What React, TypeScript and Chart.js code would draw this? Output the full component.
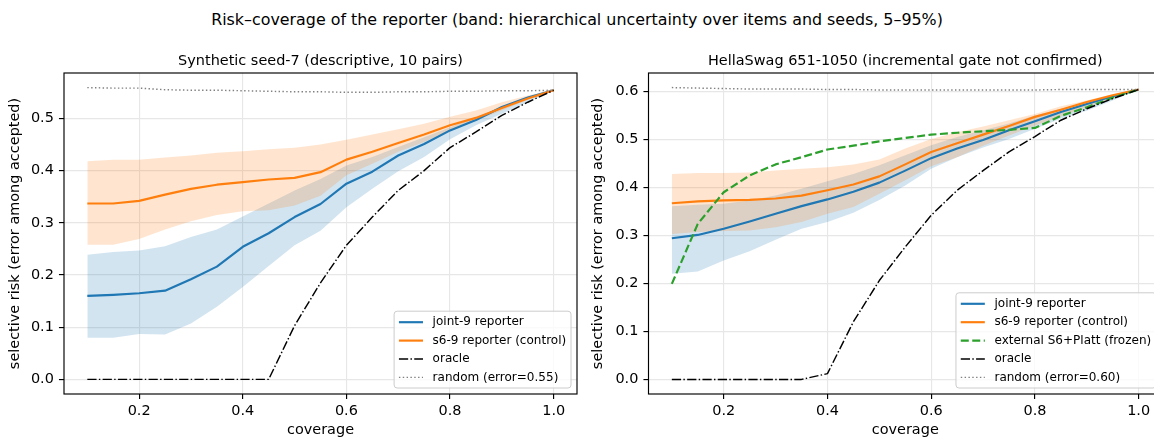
import React, { useEffect, useRef } from 'react';
import { Chart, registerables } from 'chart.js';

Chart.register(...registerables);

// ---------------- data ----------------
const coverage = [0.10, 0.15, 0.20, 0.25, 0.30, 0.35, 0.40, 0.45, 0.50, 0.55, 0.60, 0.65, 0.70, 0.75, 0.80, 0.85, 0.90, 0.95, 1.00];

const xTicks = [0.2, 0.4, 0.6, 0.8, 1.0];
const synYTicks = [0.0, 0.1, 0.2, 0.3, 0.4, 0.5];
const hsYTicks = [0.0, 0.1, 0.2, 0.3, 0.4, 0.5, 0.6];

// Synthetic seed-7
const synJoint = [0.160, 0.162, 0.165, 0.170, 0.192, 0.216, 0.254, 0.280, 0.311, 0.336, 0.375, 0.398, 0.429, 0.451, 0.477, 0.497, 0.522, 0.540, 0.554];
const synJointLo = [0.080, 0.080, 0.087, 0.086, 0.107, 0.139, 0.177, 0.217, 0.257, 0.285, 0.330, 0.365, 0.399, 0.426, 0.460, 0.487, 0.509, 0.531, 0.554];
const synJointHi = [0.239, 0.244, 0.247, 0.255, 0.273, 0.287, 0.312, 0.337, 0.362, 0.384, 0.410, 0.426, 0.445, 0.464, 0.483, 0.503, 0.522, 0.541, 0.554];
const synCtrl = [0.337, 0.337, 0.342, 0.354, 0.365, 0.373, 0.378, 0.383, 0.386, 0.397, 0.421, 0.436, 0.453, 0.469, 0.487, 0.501, 0.520, 0.538, 0.554];
const synCtrlLo = [0.258, 0.258, 0.269, 0.287, 0.303, 0.315, 0.322, 0.324, 0.333, 0.352, 0.391, 0.413, 0.436, 0.455, 0.477, 0.496, 0.515, 0.536, 0.554];
const synCtrlHi = [0.418, 0.421, 0.421, 0.425, 0.429, 0.434, 0.437, 0.441, 0.444, 0.450, 0.459, 0.469, 0.479, 0.490, 0.503, 0.515, 0.531, 0.544, 0.554];
const synOracle = [0, 0, 0, 0, 0, 0, 0, 0, 0.103, 0.185, 0.257, 0.311, 0.362, 0.400, 0.444, 0.474, 0.506, 0.531, 0.554];
const synRandom = [0.559, 0.558, 0.558, 0.555, 0.554, 0.554, 0.553, 0.552, 0.551, 0.551, 0.550, 0.550, 0.551, 0.551, 0.552, 0.552, 0.553, 0.553, 0.554];

// HellaSwag 651-1050
const hsJoint = [0.294, 0.301, 0.314, 0.329, 0.345, 0.361, 0.375, 0.391, 0.410, 0.435, 0.461, 0.481, 0.499, 0.519, 0.538, 0.557, 0.574, 0.590, 0.604];
const hsJointLo = [0.220, 0.225, 0.248, 0.267, 0.291, 0.314, 0.328, 0.347, 0.374, 0.404, 0.439, 0.463, 0.483, 0.501, 0.522, 0.543, 0.560, 0.581, 0.604];
const hsJointHi = [0.361, 0.364, 0.366, 0.373, 0.383, 0.397, 0.413, 0.428, 0.446, 0.467, 0.488, 0.505, 0.519, 0.533, 0.550, 0.564, 0.578, 0.592, 0.604];
const hsCtrl = [0.367, 0.371, 0.373, 0.374, 0.377, 0.383, 0.394, 0.406, 0.423, 0.448, 0.474, 0.492, 0.510, 0.528, 0.547, 0.562, 0.578, 0.592, 0.604];
const hsCtrlLo = [0.303, 0.307, 0.309, 0.310, 0.317, 0.328, 0.345, 0.359, 0.387, 0.415, 0.444, 0.463, 0.487, 0.508, 0.529, 0.548, 0.567, 0.585, 0.604];
const hsCtrlHi = [0.428, 0.430, 0.430, 0.431, 0.435, 0.439, 0.442, 0.448, 0.458, 0.481, 0.501, 0.515, 0.527, 0.540, 0.553, 0.569, 0.581, 0.594, 0.604];
const hsPlatt = [0.199, 0.324, 0.390, 0.425, 0.448, 0.463, 0.479, 0.487, 0.496, 0.503, 0.510, 0.514, 0.517, 0.520, 0.524, 0.549, 0.567, 0.587, 0.604];
const hsOracle = [0, 0, 0, 0, 0, 0, 0.012, 0.120, 0.206, 0.276, 0.342, 0.394, 0.435, 0.474, 0.506, 0.540, 0.564, 0.585, 0.604];
const hsRandom = [0.608, 0.607, 0.606, 0.605, 0.605, 0.605, 0.604, 0.604, 0.603, 0.603, 0.603, 0.603, 0.603, 0.603, 0.603, 0.604, 0.604, 0.604, 0.604];

const SUPTITLE = 'Risk–coverage of the reporter (band: hierarchical uncertainty over items and seeds, 5–95%)';

// ---------------- styles ----------------
const FONT = "'DejaVu Sans'";
const BLUE = '#1f77b4';
const ORANGE = '#ff7f0e';
const GREEN = '#2ca02c';
const BLUE_BAND = 'rgba(31,119,180,0.2)';
const ORANGE_BAND = 'rgba(255,127,14,0.2)';
const PT = 1.444;

Chart.defaults.font.family = FONT;

const pts = (ys: number[]) => coverage.map((x, i) => ({ x, y: ys[i] }));

const band = (lo: number[], hi: number[], color: string) => [
  { label: '_lo', data: pts(lo), borderWidth: 0, borderColor: 'rgba(0,0,0,0)', pointRadius: 0, fill: false, order: 10 },
  { label: '_hi', data: pts(hi), borderWidth: 0, borderColor: 'rgba(0,0,0,0)', pointRadius: 0, fill: '-1', backgroundColor: color, order: 10 },
];

const line = (label: string, ys: number[], color: string, width: number, dash: number[], order: number) => ({
  label,
  data: pts(ys),
  borderColor: color,
  backgroundColor: color,
  borderWidth: width,
  borderDash: dash,
  borderJoinStyle: 'round',
  pointRadius: 0,
  pointHoverRadius: 0,
  fill: false,
  order,
});

function roundRectPath(ctx: CanvasRenderingContext2D, x: number, y: number, w: number, h: number, r: number) {
  ctx.beginPath();
  ctx.moveTo(x + r, y);
  ctx.lineTo(x + w - r, y);
  ctx.arcTo(x + w, y, x + w, y + r, r);
  ctx.lineTo(x + w, y + h - r);
  ctx.arcTo(x + w, y + h, x + w - r, y + h, r);
  ctx.lineTo(x + r, y + h);
  ctx.arcTo(x, y + h, x, y + h - r, r);
  ctx.lineTo(x, y + r);
  ctx.arcTo(x, y, x + r, y, r);
  ctx.closePath();
}

const framePlugin = {
  id: 'frameBox',
  afterDraw(chart: any) {
    const { ctx, chartArea: a } = chart;
    ctx.save();
    ctx.strokeStyle = '#000';
    ctx.lineWidth = 0.8 * PT;
    ctx.strokeRect(a.left, a.top, a.right - a.left, a.bottom - a.top);
    ctx.restore();
  },
};

const panelTitlePlugin = {
  id: 'panelTitle',
  afterDraw(chart: any, _args: any, opts: any) {
    if (!opts || !opts.text) return;
    const { ctx, chartArea: a } = chart;
    ctx.save();
    ctx.font = `${10 * PT}px ${FONT}`;
    ctx.fillStyle = '#000';
    ctx.textAlign = 'center';
    ctx.textBaseline = 'alphabetic';
    ctx.fillText(opts.text, (a.left + a.right) / 2, 64.7);
    ctx.restore();
  },
};

const mplLegendPlugin = {
  id: 'mplLegend',
  afterDatasetsDraw(chart: any) {
    const { ctx, chartArea: a } = chart;
    const items = chart.data.datasets.filter((d: any) => !String(d.label).startsWith('_'));
    const fs = 8.33 * PT;
    ctx.save();
    ctx.font = `${fs}px ${FONT}`;
    const tw = Math.max(...items.map((it: any) => ctx.measureText(it.label).width));
    const padX = 0.4 * fs;
    const handle = 2 * fs;
    const gap = 0.8 * fs;
    const w = padX + handle + gap + tw + padX;
    const pitch = 18.4;
    const h = 11 + (items.length - 1) * pitch + 10.6;
    const right = a.right - 6;
    const bottom = a.bottom - 6;
    const left = right - w;
    const top = bottom - h;
    roundRectPath(ctx, left, top, w, h, 3);
    ctx.fillStyle = 'rgba(255,255,255,0.8)';
    ctx.fill();
    ctx.strokeStyle = '#cccccc';
    ctx.lineWidth = 1;
    ctx.stroke();
    items.forEach((it: any, i: number) => {
      const cy = top + 11 + i * pitch;
      ctx.beginPath();
      ctx.setLineDash(it.borderDash || []);
      ctx.strokeStyle = it.borderColor;
      ctx.lineWidth = it.borderWidth;
      ctx.moveTo(left + padX, cy);
      ctx.lineTo(left + padX + handle, cy);
      ctx.stroke();
      ctx.setLineDash([]);
      ctx.fillStyle = '#000';
      ctx.textAlign = 'left';
      ctx.textBaseline = 'middle';
      ctx.fillText(it.label, left + padX + handle + gap, cy);
    });
    ctx.restore();
  },
};

type PanelSpec = {
  title: string;
  joint: number[]; jointLo: number[]; jointHi: number[];
  ctrl: number[]; ctrlLo: number[]; ctrlHi: number[];
  platt?: number[];
  oracle: number[];
  random: number[];
  randomLabel: string;
  yTicks: number[];
  yMin: number; yMax: number;
  yAxisWidth: number;
  yTitlePad: number;
  padRight: number;
};

function buildConfig(p: PanelSpec): any {
  const lw = 1.5 * PT;
  // fills are painted from the last dataset to the first, so the orange band
  // (listed first) ends up on top of the blue one, as in the original figure
  const datasets: any[] = [
    ...band(p.ctrlLo, p.ctrlHi, ORANGE_BAND),
    ...band(p.jointLo, p.jointHi, BLUE_BAND),
    line('joint-9 reporter', p.joint, BLUE, lw, [], 6),
    line('s6-9 reporter (control)', p.ctrl, ORANGE, lw, [], 5),
  ];
  if (p.platt) {
    datasets.push(line('external S6+Platt (frozen)', p.platt, GREEN, lw, [3.7 * 1.5 * PT, 1.6 * 1.5 * PT], 4));
  }
  datasets.push(line('oracle', p.oracle, '#000', 1.0 * PT, [6.4 * PT, 1.6 * PT, 1.0 * PT, 1.6 * PT], 3));
  datasets.push(line(p.randomLabel, p.random, '#808080', 1.0 * PT, [1.0 * PT, 1.65 * PT], 2));

  const tickFont = { family: FONT, size: 10 * PT };
  const grid = {
    color: '#e7e7e7',
    lineWidth: 0.8 * PT,
    tickLength: 3.5 * PT,
    tickColor: '#000',
    tickWidth: 0.8 * PT,
  };

  return {
    type: 'line',
    data: { datasets },
    plugins: [framePlugin, panelTitlePlugin, mplLegendPlugin],
    options: {
      responsive: false,
      animation: false,
      devicePixelRatio: 1,
      events: [],
      layout: { padding: { top: 73, left: 0, right: p.padRight, bottom: 0 } },
      plugins: {
        legend: { display: false },
        tooltip: { enabled: false },
        filler: { drawTime: 'beforeDatasetsDraw' },
        panelTitle: { text: p.title },
      },
      scales: {
        x: {
          type: 'linear',
          min: 0.055,
          max: 1.045,
          afterBuildTicks: (s: any) => { s.ticks = xTicks.map((v) => ({ value: v })); },
          afterFit: (s: any) => { s.height = 46; },
          ticks: {
            callback: (v: any) => Number(v).toFixed(1),
            font: tickFont,
            color: '#000',
            padding: 3.5 * PT - 2,
            maxRotation: 0,
            autoSkip: false,
          },
          grid,
          border: { display: false },
          title: {
            display: true,
            text: 'coverage',
            color: '#000',
            font: { family: FONT, size: 10 * PT },
            padding: { top: 0, bottom: 1 },
          },
        },
        y: {
          type: 'linear',
          min: p.yMin,
          max: p.yMax,
          afterBuildTicks: (s: any) => { s.ticks = p.yTicks.map((v) => ({ value: v })); },
          afterFit: (s: any) => { s.width = p.yAxisWidth; },
          ticks: {
            callback: (v: any) => Number(v).toFixed(1),
            font: tickFont,
            color: '#000',
            padding: 3.5 * PT,
            autoSkip: false,
          },
          grid,
          border: { display: false },
          title: {
            display: true,
            text: 'selective risk (error among accepted)',
            color: '#000',
            font: { family: FONT, size: 10 * PT },
            padding: { top: p.yTitlePad, bottom: 0 },
          },
        },
      },
    },
  };
}

const leftPanel: PanelSpec = {
  title: 'Synthetic seed-7 (descriptive, 10 pairs)',
  joint: synJoint, jointLo: synJointLo, jointHi: synJointHi,
  ctrl: synCtrl, ctrlLo: synCtrlLo, ctrlHi: synCtrlHi,
  oracle: synOracle,
  random: synRandom,
  randomLabel: 'random (error=0.55)',
  yTicks: synYTicks,
  yMin: -0.028, yMax: 0.587,
  yAxisWidth: 64,
  yTitlePad: 6.7,
  padRight: 3,
};

const rightPanel: PanelSpec = {
  title: 'HellaSwag 651-1050 (incremental gate not confirmed)',
  joint: hsJoint, jointLo: hsJointLo, jointHi: hsJointHi,
  ctrl: hsCtrl, ctrlLo: hsCtrlLo, ctrlHi: hsCtrlHi,
  platt: hsPlatt,
  oracle: hsOracle,
  random: hsRandom,
  randomLabel: 'random (error=0.60)',
  yTicks: hsYTicks,
  yMin: -0.0304, yMax: 0.6384,
  yAxisWidth: 68.5,
  yTitlePad: 9.7,
  padRight: 18,
};

function Panel({ spec, left, width }: { spec: PanelSpec; left: number; width: number }) {
  const ref = useRef<HTMLCanvasElement>(null);
  useEffect(() => {
    if (!ref.current) return;
    const chart = new Chart(ref.current, buildConfig(spec));
    return () => chart.destroy();
  }, [spec]);
  return (
    <canvas
      ref={ref}
      width={width}
      height={440}
      style={{ position: 'absolute', left, top: 0, width, height: 440, display: 'block' }}
    />
  );
}

export default function App() {
  return (
    <div
      style={{
        position: 'absolute',
        left: 0,
        top: 0,
        width: 1154,
        height: 440,
        overflow: 'hidden',
        background: '#fff',
      }}
    >
      <div
        style={{
          position: 'absolute',
          left: 0,
          top: 10,
          width: 1154,
          textAlign: 'center',
          fontFamily: FONT,
          fontSize: 11 * PT,
          lineHeight: '20px',
          color: '#000',
          whiteSpace: 'nowrap',
        }}
      >
        {SUPTITLE}
      </div>
      <Panel spec={leftPanel} left={0} width={580} />
      <Panel spec={rightPanel} left={580} width={600} />
    </div>
  );
}
